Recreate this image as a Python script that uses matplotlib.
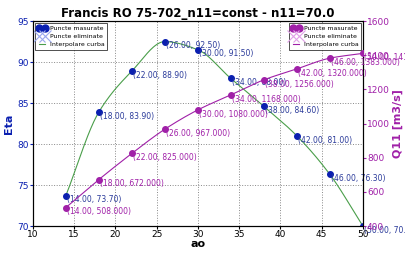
import numpy as np
import matplotlib
matplotlib.use("Agg")
import matplotlib.pyplot as plt
from matplotlib.lines import Line2D

ao = [14, 18, 22, 26, 30, 34, 38, 42, 46, 50]
eta = [73.7, 83.9, 88.9, 92.5, 91.5, 88.0, 84.6, 81.0, 76.3, 70.0]
q11 = [508, 672, 825, 967, 1080, 1168, 1256, 1320, 1383, 1411]

title = "Francis RO 75-702_n11=const - n11=70.0"
BLUE = "#0a1fb0"
MAG = "#a020a8"
GREEN = "#4a9e4a"


def pchip(x, y, n=300):
    x = np.asarray(x, float); y = np.asarray(y, float)
    h = np.diff(x); dl = np.diff(y) / h
    m = len(x); d = np.zeros(m)
    for i in range(1, m - 1):
        if dl[i - 1] * dl[i] > 0:
            w1 = 2 * h[i] + h[i - 1]; w2 = h[i] + 2 * h[i - 1]
            d[i] = (w1 + w2) / (w1 / dl[i - 1] + w2 / dl[i])
    d[0] = dl[0]; d[-1] = dl[-1]
    xs = np.linspace(x[0], x[-1], n); ys = np.empty_like(xs)
    for k, xv in enumerate(xs):
        i = int(np.clip(np.searchsorted(x, xv) - 1, 0, m - 2))
        t = (xv - x[i]) / h[i]
        h00 = 2 * t**3 - 3 * t**2 + 1; h10 = t**3 - 2 * t**2 + t
        h01 = -2 * t**3 + 3 * t**2; h11 = t**3 - t**2
        ys[k] = h00 * y[i] + h10 * h[i] * d[i] + h01 * y[i + 1] + h11 * h[i] * d[i + 1]
    return xs, ys


fig = plt.figure(figsize=(4.05, 2.54), dpi=100)
ax = fig.add_axes([0.081, 0.110, 0.815, 0.807])
ax2 = ax.twinx()

xs, ys = pchip(ao, eta)
ax.plot(xs, ys, color=GREEN, lw=0.8, zorder=2)
ax.plot(ao, eta, "o", color=BLUE, ms=4, zorder=3)
for x, y in zip(ao, eta):
    ax.annotate(f"({x:.2f}, {y:.2f})", (x, y), xytext=(1, -3), textcoords="offset points",
                fontsize=5.5, color="#2a3a9a", va="center", annotation_clip=False)

xs2, ys2 = pchip(ao, q11)
ax2.plot(xs2, ys2, color=MAG, lw=0.8, zorder=2)
ax2.plot(ao, q11, "o", color=MAG, ms=4, zorder=3)
for x, y in zip(ao, q11):
    ax2.annotate(f"({x:.2f}, {y:.3f})", (x, y), xytext=(1, -3), textcoords="offset points",
                 fontsize=5.5, color=MAG, va="center", annotation_clip=False)

ax.set_xlim(10, 50)
ax.set_ylim(70, 95)
ax2.set_ylim(400, 1600)
ax.set_xticks(range(10, 51, 5))
ax.set_yticks(range(70, 96, 5))
ax2.set_yticks(range(400, 1601, 200))
ax.grid(True, ls=":", color="#888888", lw=0.7)
ax.tick_params(axis="x", labelsize=6.5, pad=1, length=2)
ax.tick_params(axis="y", labelsize=6.5, colors=BLUE, pad=1, length=2)
ax2.tick_params(axis="y", labelsize=6.5, colors=MAG, pad=1, length=2)
ax.set_xlabel("ao", fontsize=8, fontweight="bold", labelpad=0)
ax.set_ylabel("Eta", fontsize=8, fontweight="bold", color=BLUE, labelpad=2)
ax2.set_ylabel("Q11 [m3/s]", fontsize=8, fontweight="bold", color=MAG, labelpad=2)
ax.set_title(title, fontsize=8.5, fontweight="bold", pad=3)

h1 = [Line2D([], [], marker="o", ls="", color=BLUE, ms=5),
      Line2D([], [], marker="x", ls="", color="#9aa8ee", ms=8, mew=0.8),
      Line2D([], [], color=GREEN, lw=0.8)]
h2 = [Line2D([], [], marker="o", ls="", color=MAG, ms=5),
      Line2D([], [], marker="x", ls="", color="#e0a0e8", ms=8, mew=0.8),
      Line2D([], [], color=MAG, lw=0.8)]
labels = ["Puncte masurate", "Puncte eliminate", "Interpolare curba"]
for a, h in ((ax, h1), (ax2, h2)):
    leg = a.legend(h, labels, loc="upper left" if a is ax else "upper right", fontsize=4.5,
                   numpoints=2, frameon=True, fancybox=False, borderpad=0.4,
                   handlelength=1.6, labelspacing=0.45, handletextpad=0.4, borderaxespad=0.3)
    leg.get_frame().set_edgecolor("black")
    leg.get_frame().set_linewidth(0.6)
    leg.set_zorder(5)

fig.savefig("out.png", dpi=100)
